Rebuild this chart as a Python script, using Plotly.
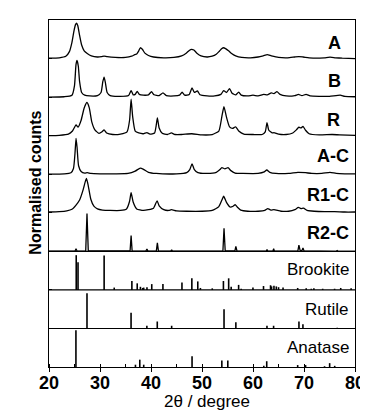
import plotly.graph_objects as go

# ---------------- data ----------------
# Measured patterns: 2theta positions and normalised intensity (row-height units)
A_x = [20, 22, 23.3, 24.0, 24.5, 24.9, 25.2, 25.4, 25.65, 26.0, 26.4, 26.9, 27.5, 28.3, 29.5, 30.3, 30.8, 31.4,
       33.0, 35.0, 36.2, 36.8, 37.2, 37.6, 37.9, 38.3, 38.8, 39.5, 40.5, 42.5, 44.5, 46.0, 46.9, 47.5, 47.95,
       48.4, 49.0, 49.8, 51.0, 52.0, 52.8, 53.4, 53.9, 54.2, 54.7, 55.2, 55.8, 56.6, 57.8, 59.5, 61.0, 62.0,
       62.8, 63.6, 65.0, 66.8, 68.2, 69.0, 69.8, 71.0, 72.5, 74.0, 75.1, 76.2, 77.5, 80]
A_y = [0.01, 0.02, 0.06, 0.18, 0.42, 0.72, 0.88, 0.92, 0.85, 0.6, 0.35, 0.2, 0.13, 0.07, 0.04, 0.05, 0.065, 0.05,
       0.03, 0.03, 0.06, 0.10, 0.12, 0.2, 0.28, 0.24, 0.14, 0.08, 0.04, 0.02, 0.03, 0.07, 0.14, 0.21, 0.24,
       0.22, 0.14, 0.07, 0.04, 0.06, 0.11, 0.19, 0.26, 0.28, 0.25, 0.2, 0.13, 0.07, 0.03, 0.02, 0.04, 0.07,
       0.10, 0.07, 0.03, 0.02, 0.04, 0.05, 0.04, 0.02, 0.01, 0.02, 0.035, 0.02, 0.01, 0.0]

B_x = [20, 23, 24.5, 25.0, 25.3, 25.5, 25.75, 26.0, 26.4, 27, 28, 29.5, 30.2, 30.55, 30.8, 31.05, 31.4, 32.0,
       33.5, 35.6, 36.1, 36.5, 36.9, 37.3, 37.7, 38.5, 39.5, 40.1, 40.6, 41.6, 42.35, 43.0, 44.5, 45.6, 46.1,
       46.6, 47.5, 48.05, 48.5, 49.1, 49.6, 51, 52.5, 53.7, 54.25, 54.8, 55.4, 55.9, 56.6, 57.2, 57.7, 59, 60,
       61, 62.1, 62.8, 63.6, 64.1, 64.7, 65.3, 66.5, 68.2, 68.9, 69.6, 70.4, 71.2, 73, 75, 77.1, 78, 80]
B_y = [0.0, 0.01, 0.05, 0.3, 0.85, 0.95, 0.8, 0.4, 0.12, 0.05, 0.03, 0.04, 0.12, 0.4, 0.52, 0.38, 0.12, 0.04,
       0.02, 0.04, 0.17, 0.06, 0.07, 0.15, 0.07, 0.05, 0.06, 0.14, 0.06, 0.04, 0.11, 0.04, 0.03, 0.05, 0.13,
       0.05, 0.07, 0.24, 0.12, 0.16, 0.06, 0.03, 0.03, 0.07, 0.17, 0.12, 0.22, 0.1, 0.06, 0.13, 0.05, 0.03, 0.05,
       0.03, 0.07, 0.06, 0.11, 0.09, 0.14, 0.07, 0.03, 0.04, 0.07, 0.04, 0.07, 0.03, 0.02, 0.02, 0.05, 0.02, 0.01]

R_x = [20, 22, 23.8, 24.6, 25.3, 25.7, 26.3, 26.9, 27.45, 27.9, 28.4, 29.0, 29.8, 30.4, 30.8, 31.3, 32.5, 34.0,
       35.3, 35.8, 36.1, 36.4, 36.9, 37.6, 38.5, 39.2, 39.8, 40.7, 41.0, 41.25, 41.6, 42.2, 43.2, 44.0, 44.7,
       46, 48.0, 50.0, 52.0, 53.3, 53.9, 54.3, 54.8, 55.4, 56.0, 56.6, 57.2, 58.2, 60, 61.8, 62.4, 62.75, 63.1,
       63.8, 64.1, 65.0, 66.5, 67.8, 68.5, 69.0, 69.4, 69.8, 70.3, 71.0, 73, 75.5, 77, 80]
R_y = [0.0, 0.01, 0.04, 0.12, 0.28, 0.22, 0.4, 0.72, 0.86, 0.72, 0.35, 0.15, 0.06, 0.1, 0.15, 0.07, 0.03, 0.04,
       0.1, 0.4, 0.95, 0.5, 0.12, 0.07, 0.05, 0.08, 0.04, 0.07, 0.25, 0.46, 0.2, 0.06, 0.03, 0.07, 0.03,
       0.03, 0.05, 0.02, 0.03, 0.12, 0.5, 0.75, 0.48, 0.23, 0.19, 0.23, 0.12, 0.04, 0.03, 0.03, 0.1, 0.34, 0.14,
       0.07, 0.08, 0.04, 0.03, 0.07, 0.15, 0.22, 0.2, 0.24, 0.14, 0.05, 0.02, 0.03, 0.02, 0.01]

AC_x = [20, 23, 24.3, 24.8, 25.1, 25.3, 25.5, 25.8, 26.3, 27.0, 27.5, 28.2, 30, 33, 35.5, 36.9, 37.9, 38.6,
        39.5, 41, 45, 47.0, 47.6, 48.05, 48.5, 49.2, 51, 52.8, 53.5, 53.9, 54.5, 55.1, 55.6, 56.5, 58, 61,
        62.2, 62.7, 63.3, 64.5, 67, 68.8, 70.3, 71.5, 73.5, 75.1, 76.3, 78, 80]
AC_y = [0.0, 0.01, 0.04, 0.15, 0.55, 0.93, 0.7, 0.22, 0.07, 0.03, 0.04, 0.02, 0.01, 0.01, 0.02, 0.08, 0.16, 0.12,
        0.05, 0.02, 0.01, 0.04, 0.12, 0.27, 0.12, 0.04, 0.02, 0.05, 0.12, 0.17, 0.14, 0.17, 0.1, 0.03, 0.02, 0.02,
        0.06, 0.11, 0.05, 0.02, 0.02, 0.05, 0.04, 0.02, 0.02, 0.05, 0.02, 0.01, 0.01]

R1C_x = [20, 22, 23.5, 24.5, 25.3, 26.0, 26.7, 27.1, 27.35, 27.7, 28.2, 28.8, 29.5, 30.5, 32, 34, 35.2, 35.8,
         36.1, 36.5, 37.2, 38.5, 39.5, 40.5, 41.2, 41.6, 42.5, 43.5, 44.0, 45, 47, 50, 52, 53.3, 53.9, 54.25,
         54.8, 55.5, 56.1, 56.5, 56.9, 57.6, 59, 61, 62.3, 62.9, 63.5, 64.1, 65.5, 67, 68.2, 68.9, 69.4, 69.9,
         70.6, 72, 74, 76, 78, 80]
R1C_y = [0.02, 0.03, 0.05, 0.09, 0.2, 0.33, 0.6, 0.8, 0.89, 0.7, 0.35, 0.17, 0.1, 0.07, 0.06, 0.06, 0.1, 0.3,
         0.52, 0.28, 0.1, 0.06, 0.08, 0.12, 0.31, 0.18, 0.08, 0.06, 0.08, 0.05, 0.04, 0.04, 0.06, 0.16, 0.33, 0.43,
         0.27, 0.15, 0.17, 0.21, 0.15, 0.07, 0.04, 0.04, 0.06, 0.11, 0.07, 0.08, 0.04, 0.04, 0.08, 0.14, 0.11, 0.12,
         0.06, 0.04, 0.03, 0.03, 0.02, 0.02]

R2C_x = [20, 25.1, 25.3, 25.5, 27.2, 27.45, 27.7, 35.9, 36.1, 36.3, 39.0, 39.2, 39.4, 41.05, 41.25, 41.45,
         43.9, 44.05, 44.2, 54.1, 54.32, 54.55, 56.45, 56.64, 56.85, 62.6, 62.75, 62.9, 63.9, 64.05, 64.2,
         68.8, 69.0, 69.25, 69.6, 69.8, 70.0, 76.35, 76.5, 76.65, 80]
R2C_y = [0.005, 0.005, 0.07, 0.005, 0.01, 0.98, 0.01, 0.01, 0.41, 0.01, 0.005, 0.06, 0.005, 0.01, 0.22, 0.01,
         0.005, 0.04, 0.005, 0.01, 0.6, 0.01, 0.01, 0.13, 0.01, 0.005, 0.05, 0.005, 0.005, 0.07, 0.005,
         0.01, 0.16, 0.02, 0.02, 0.09, 0.01, 0.0, 0.02, 0.0, 0.0]

# Reference stick patterns
brookite_pos = [25.34, 25.69, 30.81, 32.79, 36.25, 37.30, 37.93, 38.37, 38.57, 39.21, 40.15, 42.34, 46.07,
                48.01, 49.17, 49.69, 52.01, 54.20, 55.23, 55.72, 57.18, 57.68, 59.99, 62.06, 63.44, 63.64,
                64.11, 64.57, 65.01, 65.89, 68.76, 70.43, 71.43, 71.94, 73.66, 76.00, 77.20, 79.24]
brookite_int = [0.9, 0.72, 0.89, 0.06, 0.23, 0.17, 0.08, 0.05, 0.06, 0.07, 0.15, 0.15, 0.19,
                0.30, 0.22, 0.05, 0.04, 0.23, 0.30, 0.08, 0.13, 0.03, 0.06, 0.1, 0.12, 0.09,
                0.11, 0.09, 0.07, 0.06, 0.05, 0.04, 0.03, 0.04, 0.03, 0.03, 0.05, 0.04]
rutile_pos = [27.45, 36.09, 39.19, 41.23, 44.05, 54.32, 56.64, 62.74, 64.04, 69.01, 69.79, 76.51]
rutile_int = [0.91, 0.41, 0.07, 0.18, 0.07, 0.50, 0.16, 0.07, 0.07, 0.18, 0.11, 0.02]
anatase_pos = [25.28, 36.95, 37.80, 38.57, 48.05, 53.89, 55.06, 62.12, 62.69, 68.76, 70.31, 74.03, 75.03, 76.02]
anatase_int = [0.95, 0.06, 0.19, 0.06, 0.28, 0.17, 0.17, 0.03, 0.15, 0.05, 0.05, 0.02, 0.10, 0.03]

pattern_labels = ["A", "B", "R", "A-C", "R1-C", "R2-C"]
phase_labels = ["Brookite", "Rutile", "Anatase"]
x_ticks = [20, 30, 40, 50, 60, 70, 80]

# ---------------- figure ----------------
FONT = "Liberation Sans, Arial, sans-serif"
fig = go.Figure()

patterns = [(A_x, A_y, 8, "spline"), (B_x, B_y, 7, "spline"), (R_x, R_y, 6, "spline"),
            (AC_x, AC_y, 5, "spline"), (R1C_x, R1C_y, 4, "spline"), (R2C_x, R2C_y, 3, "linear")]
for (xs, ys, off, shape), name in zip(patterns, pattern_labels):
    fig.add_trace(go.Scatter(x=xs, y=[v + off for v in ys], mode="lines", name=name,
                             line=dict(color="black", width=1.3, shape=shape,
                                       smoothing=0.5 if shape == "spline" else None),
                             showlegend=False, hoverinfo="skip"))

for pos, inten, off, name in [(brookite_pos, brookite_int, 2, "Brookite"),
                              (rutile_pos, rutile_int, 1, "Rutile"),
                              (anatase_pos, anatase_int, 0, "Anatase")]:
    sx, sy = [], []
    for p, h in zip(pos, inten):
        sx += [p, p, None]
        sy += [off, off + h, None]
    fig.add_trace(go.Scatter(x=sx, y=sy, mode="lines", name=name,
                             line=dict(color="black", width=1.6),
                             showlegend=False, hoverinfo="skip"))

# separators between stick panels
for yv in [1, 2, 3]:
    fig.add_shape(type="line", xref="paper", x0=0, x1=1, yref="y", y0=yv, y1=yv,
                  line=dict(color="black", width=1.1))

# labels
label_pos = [(77.6, 8.40, "A"), (77.6, 7.41, "B"), (77.4, 6.41, "R"),
             (79.2, 5.46, "A-C"), (79.2, 4.45, "R1-C"), (79.2, 3.47, "R2-C")]
for x, y, t in label_pos:
    fig.add_annotation(x=x, y=y, text=t, showarrow=False, xanchor="right", yanchor="middle",
                       font=dict(family=FONT, size=18, color="black", weight="bold"))
for (x, y), t in zip([(79.3, 2.54), (79.0, 1.48), (79.3, 0.50)], phase_labels):
    fig.add_annotation(x=x, y=y, text=t, showarrow=False, xanchor="right", yanchor="middle",
                       font=dict(family=FONT, size=17, color="black"))

# axis titles
fig.add_annotation(xref="paper", yref="paper", x=0.516, y=-0.1, text="2θ / degree", showarrow=False,
                   xanchor="center", yanchor="middle", font=dict(family=FONT, size=17, color="black"))
fig.add_annotation(xref="paper", yref="paper", x=-0.044, y=0.53, text="Normalised counts", showarrow=False,
                   textangle=-90, xanchor="center", yanchor="middle",
                   font=dict(family=FONT, size=16, color="black", weight="bold"))

fig.update_xaxes(range=[20, 80], tickvals=x_ticks, ticktext=[str(v) for v in x_ticks],
                 ticks="outside", ticklen=4, tickwidth=1.2, tickcolor="black", ticklabelstandoff=-5,
                 minor=dict(dtick=5, tick0=20, ticks="inside", ticklen=3, tickwidth=1, tickcolor="black"),
                 showline=True, linecolor="black", linewidth=1.3, mirror=True,
                 showgrid=False, zeroline=False,
                 tickfont=dict(family=FONT, size=18, color="black", weight="bold"))
fig.update_yaxes(range=[0, 9], dtick=1, tick0=0, ticks="inside", ticklen=3, tickwidth=1, tickcolor="black",
                 showticklabels=False, showline=True, linecolor="black", linewidth=1.3, mirror=True,
                 showgrid=False, zeroline=False)

fig.update_layout(width=368, height=410, margin=dict(l=41, r=11, t=11, b=51),
                  plot_bgcolor="white", paper_bgcolor="white")

fig.write_html("out.html")
